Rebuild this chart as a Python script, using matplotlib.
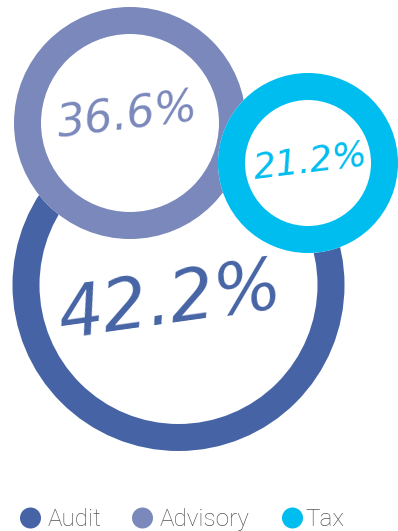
import matplotlib
matplotlib.use("Agg")
from matplotlib import pyplot as plt
from matplotlib.patches import Circle

# service line shares
labels = ["Audit", "Advisory", "Tax"]
shares = [42.2, 36.6, 21.2]
colors = ["#4664a5", "#7a88bb", "#00bdf0"]

# ring layout in pixel units (x, y from top-left)
centers = [(178.5, 285), (130, 123), (308, 163)]
radii = [166, 116, 90]
ring_w = 27
label_pos = [(170, 303), (128, 116), (311, 162)]
label_size = [51, 32, 26]
label_rot = [8, 7, 7]

fig = plt.figure(figsize=(3.98, 5.31), dpi=100)
ax = fig.add_axes([0, 0, 1, 1])
ax.set_xlim(0, 398)
ax.set_ylim(531, 0)
ax.set_aspect("equal")
ax.axis("off")

for i in range(len(labels)):
    cx, cy = centers[i]
    # white disc so each ring hides the one underneath
    ax.add_patch(Circle((cx, cy), radii[i], facecolor="white", edgecolor="none", zorder=2 * i + 1))
    ax.add_patch(Circle((cx, cy), radii[i] - ring_w / 2, facecolor="none",
                        edgecolor=colors[i], linewidth=ring_w * 72 / 100, zorder=2 * i + 1))
    tx, ty = label_pos[i]
    ax.text(tx, ty, f"{shares[i]}%", color=colors[i], fontsize=label_size[i],
            style="italic", family="DejaVu Sans", rotation=label_rot[i],
            ha="center", va="center", zorder=2 * i + 2)

# legend row
leg_dot_x = [30.5, 142.5, 292.5]
leg_text_x = [48, 160, 305]
for i in range(len(labels)):
    ax.add_patch(Circle((leg_dot_x[i], 518), 10.5, facecolor=colors[i], edgecolor="none"))
    ax.text(leg_text_x[i], 526, labels[i], color="#555555", fontsize=17.5,
            family="Roboto", fontweight="light", ha="left", va="baseline")

fig.savefig("out.png", dpi=100)
